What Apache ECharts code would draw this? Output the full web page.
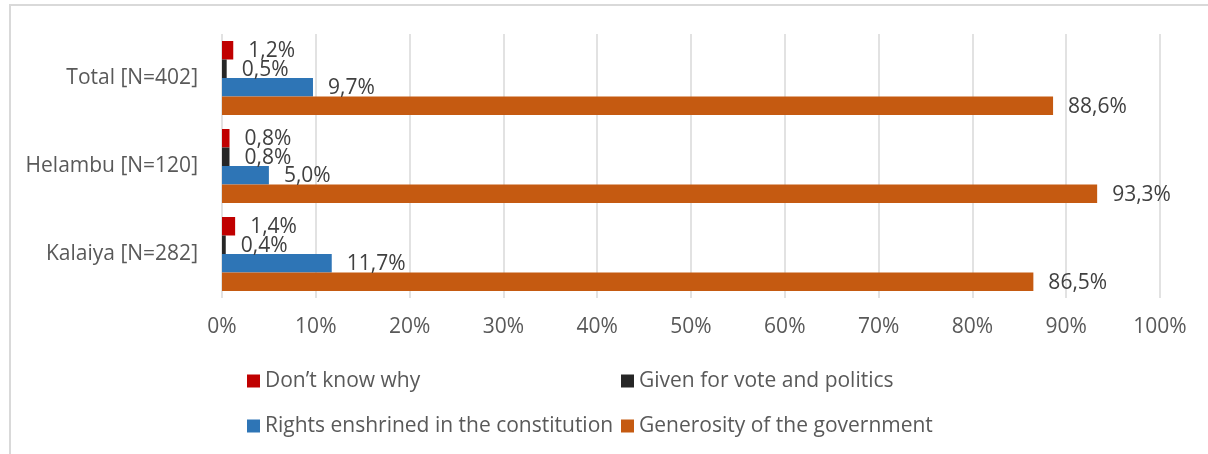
<!DOCTYPE html>
<html>
<head>
<meta charset="utf-8">
<script src="https://cdn.jsdelivr.net/npm/echarts@6/dist/echarts.min.js"></script>
<style>
  html, body { margin: 0; padding: 0; background: #ffffff; }
  #chart { width: 1208px; height: 454px; }
</style>
</head>
<body>
<div id="chart"></div>
<script>
// Areas (top to bottom)
const categories = ['Total [N=402]', 'Helambu [N=120]', 'Kalaiya [N=282]'];

// Share of respondents, %
const dontKnowWhy = [1.2, 0.8, 1.4];
const givenForVote = [0.5, 0.8, 0.4];
const rightsConstitution = [9.7, 5.0, 11.7];
const generosityGov = [88.6, 93.3, 86.5];

const seriesNames = [
  'Don\u2019t know why',
  'Given for vote and politics',
  'Rights enshrined in the constitution',
  'Generosity of the government'
];
const seriesColors = ['#C00000', '#262626', '#2E75B6', '#C55A11'];
const seriesValues = [dontKnowWhy, givenForVote, rightsConstitution, generosityGov];

const FONT = 'Open Sans';
const fmtPct = v => v.toFixed(1).replace('.', ',') + '%';

const chart = echarts.init(document.getElementById('chart'));

const legendText = { fontFamily: FONT, fontSize: 21, color: '#595959', lineHeight: 24 };

chart.setOption({
  animation: false,
  backgroundColor: '#ffffff',
  textStyle: { fontFamily: FONT },
  graphic: [{
    type: 'rect',
    shape: { x: 10, y: 5, width: 1400, height: 600 },
    style: { fill: 'none', stroke: '#d9d9d9', lineWidth: 2 },
    silent: true
  }],
  grid: { left: 222, right: 48, top: 34, height: 264 },
  legend: [{
    orient: 'vertical',
    left: 247, top: 369, padding: 0,
    itemWidth: 13, itemHeight: 13, itemGap: 21,
    icon: 'rect',
    textStyle: legendText,
    data: [seriesNames[0], seriesNames[2]]
  }, {
    orient: 'vertical',
    left: 621, top: 369, padding: 0,
    itemWidth: 13, itemHeight: 13, itemGap: 21,
    icon: 'rect',
    textStyle: legendText,
    data: [seriesNames[1], seriesNames[3]]
  }],
  xAxis: {
    type: 'value',
    min: 0, max: 100, interval: 10,
    axisLine: { show: false },
    axisTick: { show: false },
    axisLabel: {
      formatter: '{value}%',
      fontFamily: FONT, fontSize: 21, color: '#595959', margin: 19
    },
    splitLine: { lineStyle: { color: '#d9d9d9', width: 1.5 } }
  },
  yAxis: {
    type: 'category',
    inverse: true,
    data: categories,
    axisLine: { show: false },
    axisTick: { show: false },
    axisLabel: { fontFamily: FONT, fontSize: 21, color: '#595959', margin: 24 }
  },
  series: seriesNames.map((name, i) => ({
    name,
    type: 'bar',
    data: seriesValues[i],
    barWidth: 18.5,
    barGap: '0%',
    itemStyle: { color: seriesColors[i] },
    label: {
      show: true,
      position: 'right',
      distance: 15,
      offset: [0, 1],
      fontFamily: FONT, fontSize: 21, color: '#404040',
      formatter: p => fmtPct(p.value)
    }
  }))
});
</script>
</body>
</html>
